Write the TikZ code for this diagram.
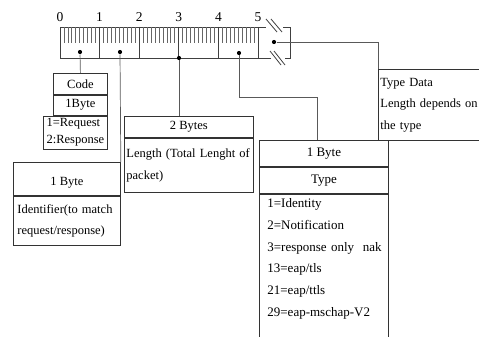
\documentclass[tikz,border=0pt]{standalone}
\usepackage{fontspec}
\setmainfont{Liberation Serif}
\begin{document}
\begin{tikzpicture}[x=1pt, y=-1pt, line width=0.8pt,
	box/.style={draw=black!80, anchor=north west, inner xsep=3pt, inner ysep=0pt, font=\fontsize{12.5}{21.5}\selectfont},
	bigbox/.style={box, font=\fontsize{13}{21.8}\selectfont},
	dot/.style={circle, fill=black, inner sep=0pt, minimum size=4.2pt},
	conn/.style={draw=black!65, line width=0.7pt},
	num/.style={font=\fontsize{13.5}{13.5}\selectfont, inner sep=0pt}]
	\useasboundingbox (0,0) rectangle (479,337);
	% the ruler (one unit = one byte)
	\draw[black!75] (258,27) -- (60,27) -- (60,58) -- (258,58);
	\foreach \i in {1,...,49} \draw[black!60] (60+3.96*\i,27) -- (60+3.96*\i,43);
	\foreach \i in {1,...,5} \draw[black!75] (60+39.6*\i,27) -- (60+39.6*\i,58);
	\draw[black!75] (258,27) -- (266,27) (283,27) -- (290,27) -- (290,58) -- (285,58) (271,58) -- (258,58);
	\draw[black!75] (266,19) -- (277,32) (271,19) -- (282,32);
	\draw[black!75] (270,51) -- (281,65) (274,51) -- (285,65);
	\foreach \i in {0,...,5} \node[num] (n\i) at (60+39.6*\i,17) {\i};
	\node[dot] (d0) at (80,52) {};
	\node[dot] (d1) at (120,52) {};
	\node[dot] (d2) at (179,58) {};
	\node[dot] (d3) at (239,53) {};
	\node[dot] (d4) at (274,42) {};
	% code
	\node[box, minimum width=54pt, minimum height=21pt] (code) at (53,73) {Code};
	\node[box, minimum width=54pt, minimum height=20pt] (codebyte) at (code.south west) {1Byte};
	\node[box, anchor=north east, minimum width=64pt, minimum height=33pt, align=left,
		font=\fontsize{12.5}{17}\selectfont] (codeval) at (codebyte.south east) {1=Request\\2:Response};
	% identifier
	\node[box, minimum width=107pt, minimum height=33pt, text height=16pt, text depth=3pt] (idbyte) at (13,162) {1 Byte};
	\node[box, minimum width=107pt, minimum height=49pt, text width=99pt, inner xsep=4pt, align=left] (idtext) at (idbyte.south west) {Identifier(to match\\request/response)};
	% length
	\node[box, minimum width=129pt, minimum height=21pt] (lenbyte) at (124,116) {2 Bytes};
	\node[box, minimum width=129pt, minimum height=54pt, text width=125pt, inner xsep=2pt, align=left] (lentext) at (lenbyte.south west) {Length (Total Lenght of\\packet)};
	% type data
	\node[box, minimum width=140pt, minimum height=71pt, text width=136pt, inner xsep=2pt, align=left] (typedata) at (378,69) {Type Data\\Length depends on\\the type};
	% type
	\node[bigbox, minimum width=129pt, minimum height=26pt] (typebyte) at (259,140) {1 Byte};
	\node[bigbox, minimum width=129pt, minimum height=26pt] (typename) at (typebyte.south west) {Type};
	\node[bigbox, minimum width=129pt, text width=113pt, inner xsep=8pt, inner ysep=4.5pt, align=left, text depth=130pt] (typelist) at (typename.south west)
		{1=Identity\\2=Notification\\\mbox{3=response only\ \ nak}\\13=eap/tls\\21=eap/ttls\\\mbox{29=eap-mschap-V2}};
	% connectors
	\coordinate (bend) at (317,97);
	\draw[conn] (d0) -- (code.north);
	\draw[conn] (d1) -- (idbyte.north east);
	\draw[conn] (d2) -- (d2 |- lenbyte.north);
	\draw[conn] (d3) |- (bend) -- (bend |- typebyte.north);
	\draw[conn] (d4) -| (typedata.north west);
\end{tikzpicture}
\end{document}
